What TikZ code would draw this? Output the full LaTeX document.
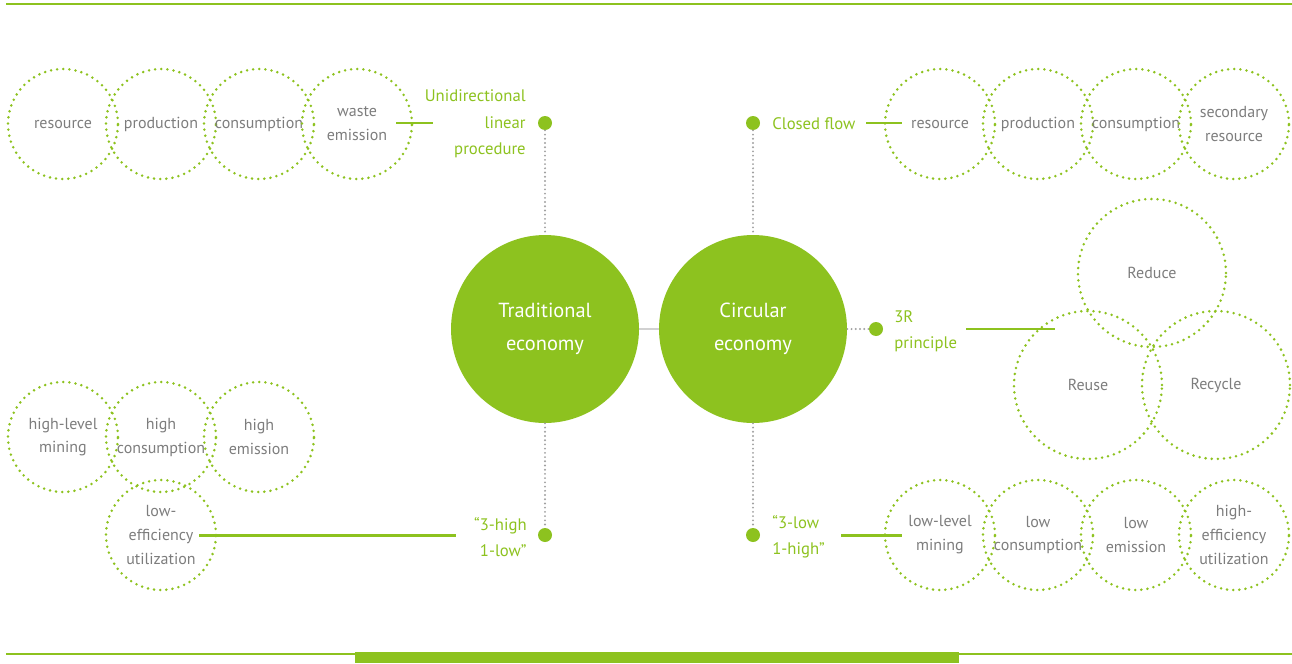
\documentclass[tikz,border=0pt]{standalone}
\usepackage{fontspec}
\setmainfont{PT Sans}
\definecolor{leaf}{RGB}{141,194,31}
\definecolor{ash}{RGB}{125,125,125}
\definecolor{dotgray}{RGB}{160,160,160}
\begin{document}
\begin{tikzpicture}[x=0.02cm,y=-0.02cm,
  ring/.style={circle,draw=leaf,line width=1.6pt,dash pattern=on 0pt off 3.5pt,line cap=round,
    minimum size=2.2cm,inner sep=0pt,align=center,text=ash,font=\fontsize{9.1}{13.6}\selectfont},
  bigring/.style={ring,minimum size=2.96cm},
  hub/.style={circle,fill=leaf,minimum size=3.76cm,inner sep=0pt,align=center,text=white,
    font=\fontsize{11.6}{18.8}\selectfont},
  tag/.style={text=leaf,font=\fontsize{9.5}{15}\selectfont,inner sep=0pt},
  pin/.style={circle,fill=leaf,minimum size=0.28cm,inner sep=0pt},
  dots/.style={draw=dotgray,line width=1.2pt,dash pattern=on 0pt off 2.4pt,line cap=round},
  link/.style={draw=leaf,line width=1.7pt}]
\useasboundingbox (0,0) rectangle (1292,663);
\draw[leaf,line width=1.5pt] (6,4) -- (1292,4);
\draw[leaf,line width=1.3pt] (6,654) -- (1292,654);
\fill[leaf] (355,652) rectangle (959,663);

\node[hub] (trad) at (545,329) {Traditional\\economy};
\node[hub] (circ) at (753,329) {Circular\\economy};
\draw[draw=black!18,line width=1.7pt] (trad) -- (circ);

\node[ring] (tl1) at (63,124) {resource};
\node[ring] (tl2) at (161,124) {production};
\node[ring] (tl3) at (259,124) {consumption};
\node[ring] (tl4) at (357,124) {waste\\emission};
\node[pin] (p1) at (545,123) {};
\node[tag,anchor=east,align=right] (t1) at (526,124) {Unidirectional\\linear\\procedure};
\coordinate (a1) at (396,123);
\coordinate (b1) at (433,123);
\draw[link] (a1) -- (b1);
\draw[dots] (p1) -- (trad);

\node[pin] (p2) at (753,123) {};
\node[tag,anchor=west,align=left] (t2) at (772,124) {Closed flow};
\node[ring] (tr1) at (940,124) {resource};
\node[ring] (tr2) at (1038,124) {production};
\node[ring] (tr3) at (1136,124) {consumption};
\node[ring] (tr4) at (1234,124) {secondary\\resource};
\coordinate (a2) at (866,123);
\coordinate (b2) at (902,123);
\draw[link] (a2) -- (b2);
\draw[dots] (p2) -- (circ);

\node[pin] (p3) at (876,329) {};
\node[tag,anchor=west,align=left] (t3) at (894,331) {3R\\principle};
\node[bigring] (r1) at (1152,273) {Reduce};
\node[bigring] (r2) at (1088,385) {Reuse};
\node[bigring] (r3) at (1216,385) {Recycle};
\coordinate (a3) at (966,329);
\coordinate (b3) at (1055,329);
\draw[link] (a3) -- (b3);
\draw[dots] (circ) -- (p3);

\node[ring] (bl1) at (63,437) {high-level\\mining};
\node[ring] (bl2) at (161,437) {high\\consumption};
\node[ring] (bl3) at (259,437) {high\\emission};
\node[ring] (bl4) at (161,535) {low-\\efficiency\\utilization};
\node[pin] (p4) at (545,535) {};
\node[tag,anchor=east,align=right] (t4) at (527,537) {“3-high\\1-low”};
\coordinate (a4) at (199,535);
\coordinate (b4) at (456,535);
\draw[link] (a4) -- (b4);
\draw[dots] (trad) -- (p4);

\node[pin] (p5) at (753,535) {};
\node[tag,anchor=west,align=left] (t5) at (772,537) {“3-low\\1-high”};
\node[ring] (br1) at (940,535) {low-level\\mining};
\node[ring] (br2) at (1038,535) {low\\consumption};
\node[ring] (br3) at (1136,535) {low\\emission};
\node[ring] (br4) at (1234,535) {high-\\efficiency\\utilization};
\coordinate (a5) at (841,535);
\coordinate (b5) at (902,535);
\draw[link] (a5) -- (b5);
\draw[dots] (circ) -- (p5);
\end{tikzpicture}
\end{document}
